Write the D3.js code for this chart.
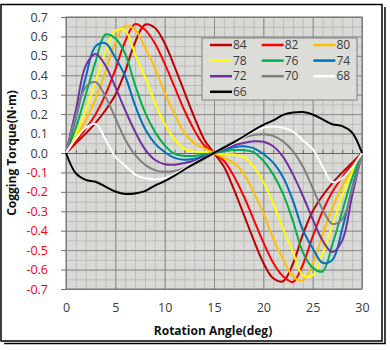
<!DOCTYPE html>
<html>
<head>
<meta charset="utf-8">
<script src="https://cdn.jsdelivr.net/npm/d3@7"></script>
<style>
  body { margin: 0; background: #fff; }
  text { font-family: "Open Sans", sans-serif; }
</style>
</head>
<body>
<div id="chart"></div>
<script>
// rotation angle (deg)
const angles = [0, 1, 2, 3, 4, 5, 6, 7, 8, 9, 10, 11, 12, 13, 14, 15,
  16, 17, 18, 19, 20, 21, 22, 23, 24, 25, 26, 27, 28, 29, 30];

// cogging torque (N·m), one list per curve
const t84 = [0, 0.05, 0.10, 0.155, 0.22, 0.30, 0.42, 0.57, 0.66, 0.645, 0.565, 0.445, 0.315, 0.185, 0.07, 0,
  -0.07, -0.185, -0.315, -0.445, -0.565, -0.645, -0.66, -0.57, -0.42, -0.30, -0.22, -0.155, -0.10, -0.05, 0];
const t82 = [0, 0.06, 0.125, 0.20, 0.30, 0.43, 0.575, 0.664, 0.635, 0.565, 0.46, 0.34, 0.22, 0.118, 0.04, 0,
  -0.04, -0.118, -0.22, -0.34, -0.46, -0.565, -0.635, -0.664, -0.575, -0.43, -0.30, -0.20, -0.125, -0.06, 0];
const t80 = [0, 0.08, 0.17, 0.28, 0.42, 0.57, 0.655, 0.635, 0.545, 0.44, 0.31, 0.20, 0.105, 0.05, 0.025, 0,
  -0.025, -0.05, -0.105, -0.20, -0.31, -0.44, -0.545, -0.635, -0.655, -0.57, -0.42, -0.28, -0.17, -0.08, 0];
const t78 = [0, 0.10, 0.22, 0.37, 0.52, 0.63, 0.63, 0.51, 0.39, 0.26, 0.15, 0.07, 0.02, 0.008, 0.006, 0,
  -0.006, -0.008, -0.02, -0.07, -0.15, -0.26, -0.39, -0.51, -0.63, -0.63, -0.52, -0.37, -0.22, -0.10, 0];
const t76 = [0, 0.13, 0.30, 0.47, 0.61, 0.59, 0.51, 0.35, 0.21, 0.11, 0.04, -0.005, -0.015, -0.015, -0.008, 0,
  0.008, 0.015, 0.015, 0.005, -0.04, -0.11, -0.21, -0.35, -0.51, -0.59, -0.61, -0.47, -0.30, -0.13, 0];
const t74 = [0, 0.18, 0.39, 0.55, 0.565, 0.49, 0.395, 0.245, 0.125, 0.05, 0.005, -0.025, -0.035, -0.03, -0.015, 0,
  0.015, 0.03, 0.035, 0.025, -0.005, -0.05, -0.125, -0.245, -0.395, -0.49, -0.565, -0.55, -0.39, -0.18, 0];
const t72 = [0, 0.22, 0.45, 0.51, 0.45, 0.34, 0.22, 0.11, 0.02, -0.035, -0.058, -0.06, -0.052, -0.04, -0.02, 0,
  0.02, 0.04, 0.052, 0.06, 0.058, 0.035, -0.02, -0.11, -0.22, -0.34, -0.45, -0.51, -0.45, -0.22, 0];
const t70 = [0, 0.19, 0.34, 0.365, 0.29, 0.18, 0.07, -0.01, -0.06, -0.088, -0.097, -0.092, -0.078, -0.057, -0.03, 0,
  0.03, 0.057, 0.078, 0.092, 0.097, 0.088, 0.06, 0.01, -0.07, -0.18, -0.29, -0.365, -0.34, -0.19, 0];
const t68 = [0, 0.075, 0.13, 0.15, 0.07, -0.02, -0.065, -0.11, -0.13, -0.136, -0.13, -0.11, -0.08, -0.05, -0.025, 0,
  0.025, 0.05, 0.08, 0.11, 0.13, 0.136, 0.13, 0.11, 0.065, 0.02, -0.07, -0.15, -0.13, -0.075, 0];
const t66 = [0, -0.105, -0.138, -0.148, -0.173, -0.198, -0.211, -0.208, -0.196, -0.168, -0.145, -0.117, -0.085, -0.055, -0.027, 0,
  0.027, 0.055, 0.085, 0.117, 0.145, 0.168, 0.196, 0.208, 0.211, 0.198, 0.173, 0.148, 0.138, 0.105, 0];

const seriesNames = ['84', '82', '80', '78', '76', '74', '72', '70', '68', '66'];
const seriesValues = [t84, t82, t80, t78, t76, t74, t72, t70, t68, t66];
const seriesColors = ['#c00000', '#ff0000', '#ffc000', '#ffff00', '#00b050',
  '#0070c0', '#7030a0', '#808080', '#ffffff', '#000000'];

const xTicks = [0, 5, 10, 15, 20, 25, 30];
const yTicks = [-0.7, -0.6, -0.5, -0.4, -0.3, -0.2, -0.1, 0, 0.1, 0.2, 0.3, 0.4, 0.5, 0.6, 0.7];

class TorqueChart {
  constructor(_config) {
    this.config = {
      parentElement: _config.parentElement,
      containerWidth: 390,
      containerHeight: 350,
      margin: {top: 17, right: 28, bottom: 61, left: 66}
    };
    this.initVis();
  }

  initVis() {
    let vis = this;
    const m = vis.config.margin;
    vis.width = vis.config.containerWidth - m.left - m.right;
    vis.height = vis.config.containerHeight - m.top - m.bottom;

    vis.svg = d3.select(vis.config.parentElement).append('svg')
        .attr('width', vis.config.containerWidth)
        .attr('height', vis.config.containerHeight);

    // outer frame with shadow line
    vis.svg.append('rect')
        .attr('x', 1).attr('y', 4.5).attr('width', 381).attr('height', 336.5)
        .attr('fill', '#fff').attr('stroke', '#000').attr('stroke-width', 1.5);
    vis.svg.append('path')
        .attr('d', 'M385,7V343.5H4')
        .attr('fill', 'none').attr('stroke', '#000').attr('stroke-width', 1.5);

    vis.chart = vis.svg.append('g')
        .attr('transform', `translate(${m.left},${m.top})`);

    vis.xScale = d3.scaleLinear().domain([0, 30]).range([0, vis.width]);
    vis.yScale = d3.scaleLinear().domain([-0.7, 0.7]).range([vis.height, 0]);

    vis.chart.append('rect')
        .attr('width', vis.width).attr('height', vis.height)
        .attr('fill', '#d9dad6');

    vis.renderVis();
  }

  renderVis() {
    let vis = this;

    // minor grid
    const minorX = angles;
    const minorY = d3.range(-14, 15).map(d => d * 0.05);
    vis.chart.append('g')
        .call(d3.axisBottom(vis.xScale).tickValues(minorX).tickSize(vis.height).tickFormat(''))
        .call(g => g.select('.domain').remove())
        .call(g => g.selectAll('line').attr('stroke', '#bcbcbc'));
    vis.chart.append('g')
        .call(d3.axisLeft(vis.yScale).tickValues(minorY).tickSize(-vis.width).tickFormat(''))
        .call(g => g.select('.domain').remove())
        .call(g => g.selectAll('line').attr('stroke', '#bcbcbc'));

    // major grid
    vis.chart.append('g')
        .call(d3.axisBottom(vis.xScale).tickValues(xTicks).tickSize(vis.height).tickFormat(''))
        .call(g => g.select('.domain').remove())
        .call(g => g.selectAll('line').attr('stroke', '#8c8c8c'));
    vis.chart.append('g')
        .call(d3.axisLeft(vis.yScale).tickValues(yTicks).tickSize(-vis.width).tickFormat(''))
        .call(g => g.select('.domain').remove())
        .call(g => g.selectAll('line').attr('stroke', '#8c8c8c'));

    // horizontal axis through zero
    vis.chart.append('g')
        .attr('transform', `translate(0,${vis.yScale(0)})`)
        .call(d3.axisTop(vis.xScale).tickValues(minorX).tickSize(3).tickSizeOuter(0).tickFormat(''))
        .call(g => g.selectAll('line, path').attr('stroke', '#666'));

    // plot frame
    vis.chart.append('rect')
        .attr('width', vis.width).attr('height', vis.height)
        .attr('fill', 'none').attr('stroke', '#6e6e6e');

    // y axis ticks and labels
    vis.chart.append('g')
        .call(d3.axisLeft(vis.yScale).tickValues(yTicks).tickSize(5).tickPadding(13)
            .tickFormat(d => d.toFixed(1)))
        .call(g => g.select('.domain').remove())
        .call(g => g.selectAll('line').attr('stroke', '#6e6e6e'))
        .call(g => g.selectAll('text')
            .attr('font-size', 12.5)
            .attr('font-family', '"Open Sans", sans-serif')
            .attr('fill', d => d < 0 ? '#ff0000' : '#3a3a3a'));

    // x axis labels
    vis.chart.append('g')
        .attr('transform', `translate(0,${vis.height})`)
        .call(d3.axisBottom(vis.xScale).tickValues(xTicks).tickSize(0).tickPadding(14))
        .call(g => g.select('.domain').remove())
        .call(g => g.selectAll('text')
            .attr('font-size', 12.5)
            .attr('font-family', '"Open Sans", sans-serif')
            .attr('fill', '#3a3a3a'));

    // curves
    const line = d3.line()
        .x((d, i) => vis.xScale(angles[i]))
        .y(d => vis.yScale(d))
        .curve(d3.curveCatmullRom.alpha(0.5));

    vis.chart.append('g')
      .selectAll('.curve')
        .data(seriesValues)
      .join('path')
        .attr('class', 'curve')
        .attr('d', d => line(d))
        .attr('fill', 'none')
        .attr('stroke', (d, i) => seriesColors[i])
        .attr('stroke-width', 2);

    // legend
    const legend = vis.chart.append('g')
        .attr('transform', `translate(${202 - 66},${38 - 17})`);
    legend.append('rect')
        .attr('width', 155).attr('height', 62)
        .attr('fill', '#dcddd9').attr('stroke', '#808080');
    const items = legend.selectAll('.item')
        .data(seriesNames)
      .join('g')
        .attr('class', 'item')
        .attr('transform', (d, i) => `translate(${8 + (i % 3) * 51.7},${7 + Math.floor(i / 3) * 15.6})`);
    items.append('line')
        .attr('x1', 0).attr('x2', 22)
        .attr('stroke', (d, i) => seriesColors[i])
        .attr('stroke-width', 2.5);
    items.append('text')
        .attr('x', 23).attr('dy', '0.35em')
        .attr('font-size', 12)
        .attr('fill', '#3a3a3a')
        .text(d => d);

    // axis titles
    vis.svg.append('text')
        .attr('x', 213).attr('y', 335)
        .attr('text-anchor', 'middle')
        .attr('font-size', 12).attr('font-weight', 'bold')
        .attr('fill', '#111')
        .text('Rotation Angle(deg)');
    vis.svg.append('text')
        .attr('transform', 'translate(16,153) rotate(-90)')
        .attr('text-anchor', 'middle')
        .attr('font-size', 12).attr('font-weight', 'bold')
        .attr('fill', '#111')
        .text('Cogging Torque(N·m)');
  }
}

new TorqueChart({parentElement: '#chart'});
</script>
</body>
</html>
